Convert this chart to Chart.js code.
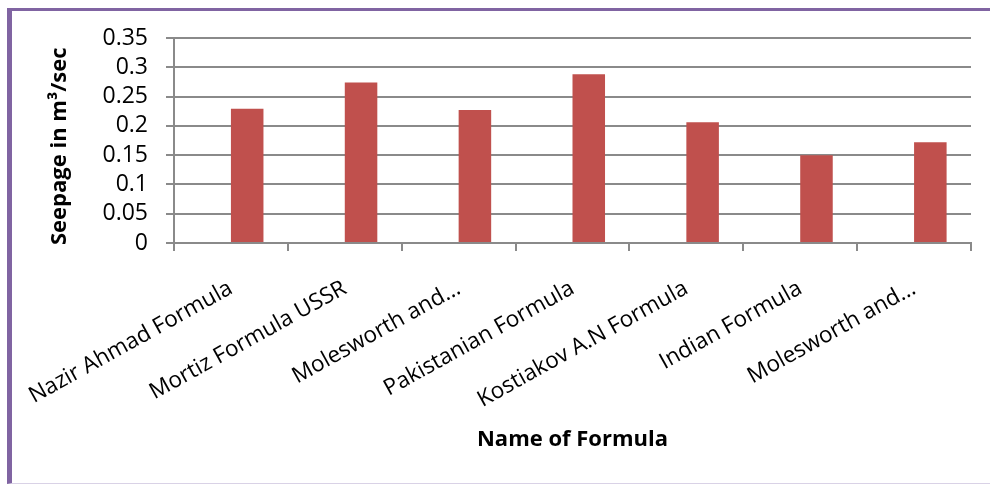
<!DOCTYPE html>
<html>
<head>
<meta charset="utf-8">
<script src="https://cdn.jsdelivr.net/npm/chart.js@4"></script>
<style>
  html, body { margin: 0; padding: 0; background: #fff; }
  #frame {
    position: absolute; left: 7px; top: 8px; width: 983px; height: 476px;
    border-left: 5px solid #8064a2; border-top: 3px solid #8064a2;
    border-bottom: 1px solid #d9d2e6; box-sizing: border-box;
  }
  #wrap { position: absolute; left: 0; top: 0; width: 990px; height: 486px; }
</style>
</head>
<body>
<div id="frame"></div>
<div id="wrap"><canvas id="seepChart" width="990" height="486"></canvas></div>
<script>
// === Chart data ===
const formulaNames = [
  "Nazir Ahmad Formula",
  "Mortiz Formula USSR",
  "Molesworth and…",
  "Pakistanian Formula",
  "Kostiakov A.N Formula",
  "Indian Formula",
  "Molesworth and…"
];
const emptySeries = [null, null, null, null, null, null, null];   // blank first series (Excel layout)
const seepageValues = [0.229, 0.274, 0.227, 0.288, 0.206, 0.150, 0.172];
const yTicks = [0, 0.05, 0.1, 0.15, 0.2, 0.25, 0.3, 0.35];

const ctx = document.getElementById("seepChart").getContext("2d");
const gridColor = "#8a8a8a";

new Chart(ctx, {
  type: "bar",
  data: {
    labels: formulaNames,
    datasets: [
      { label: "blank", data: emptySeries, backgroundColor: "#4f81bd" },
      { label: "Seepage", data: seepageValues, backgroundColor: "#c0504d", borderWidth: 0 }
    ]
  },
  options: {
    responsive: false,
    animation: false,
    devicePixelRatio: 1,
    layout: { padding: { top: 38, right: 19, left: 0, bottom: 0 } },
    datasets: { bar: { categoryPercentage: 2 / 3.5, barPercentage: 1 } },
    plugins: { legend: { display: false }, tooltip: { enabled: false } },
    scales: {
      x: {
        afterFit: s => { s.height = 243; s.paddingLeft = 0; s.paddingRight = 0; },
        grid: { offset: true, drawOnChartArea: false, drawTicks: true, tickLength: 8,
                color: gridColor, lineWidth: 2 },
        border: { color: gridColor, width: 2 },
        ticks: {
          color: "#000", padding: 24, autoSkip: false, maxRotation: 29, minRotation: 29,
          font: { family: "Open Sans", size: 22.5 }
        },
        title: {
          display: true, text: "Name of Formula", color: "#000",
          font: { family: "Open Sans", size: 22, weight: "bold" },
          padding: { top: 0, bottom: 33 }
        }
      },
      y: {
        min: 0, max: 0.35,
        afterFit: s => { s.width = 174; s.paddingTop = 0; s.paddingBottom = 0; },
        afterBuildTicks: s => { s.ticks = yTicks.map(v => ({ value: v })); },
        grid: { color: gridColor, lineWidth: 2, tickLength: 8 },
        border: { color: gridColor, width: 2 },
        ticks: {
          color: "#000", padding: 18, autoSkip: false,
          font: { family: "Open Sans", size: 23 },
          callback: v => String(v)
        },
        title: {
          display: true, text: "Seepage in m³/sec  ", color: "#000",
          font: { family: "Open Sans", size: 22, weight: "bold" },
          padding: { top: 47, bottom: 0 }
        }
      }
    }
  }
});
</script>
</body>
</html>
